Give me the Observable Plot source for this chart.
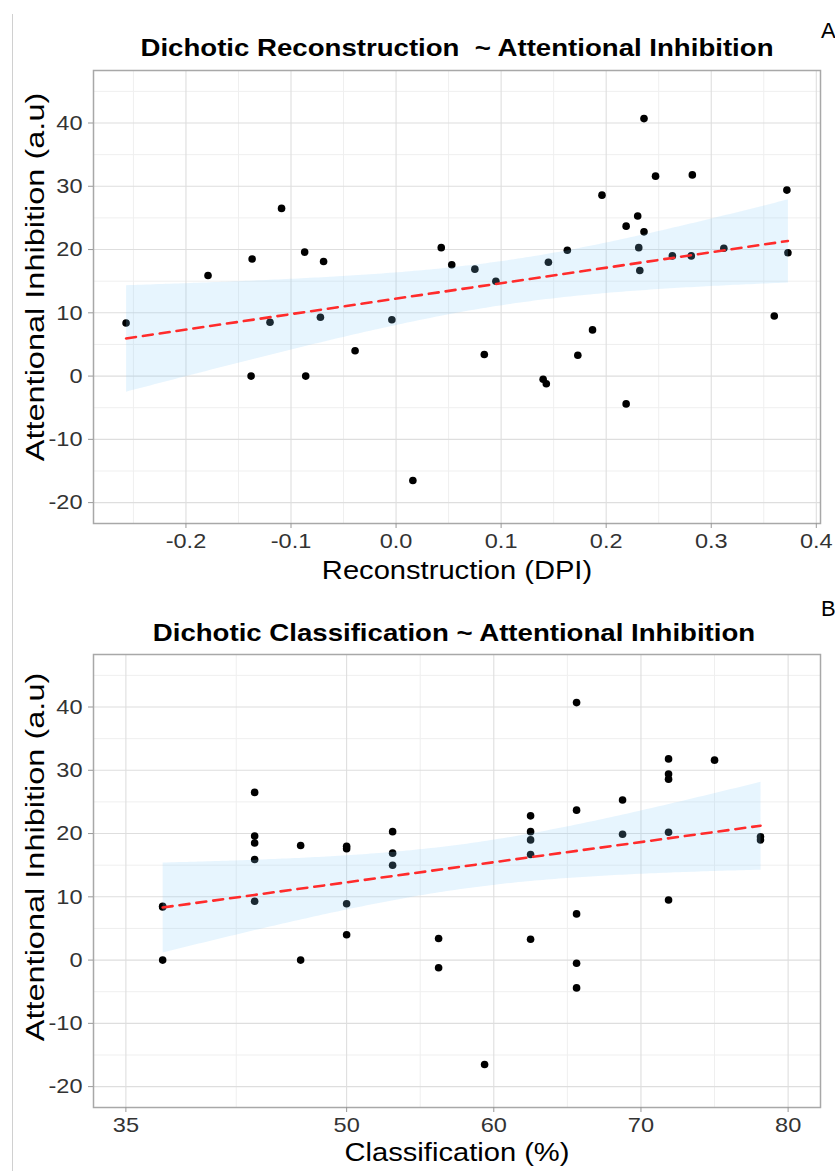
<!DOCTYPE html>
<html>
<head>
<meta charset="utf-8">
<script src="https://cdn.jsdelivr.net/npm/d3@7"></script>
<script src="https://cdn.jsdelivr.net/npm/@observablehq/plot@0.6"></script>
<style>
  html, body { margin: 0; padding: 0; background: #fff; }
  #page { position: relative; width: 835px; height: 1171px; overflow: hidden; background: #fff;
          font-family: "Liberation Sans", Arial, Helvetica, sans-serif; }
  .lbl { position: absolute; white-space: pre; line-height: 1; color: #000; }
  .panel { position: absolute; left: 0; }
</style>
</head>
<body>
<div id="page">
  <div style="position:absolute;left:12px;top:14px;width:1px;height:1157px;background:#d0d0d0"></div>
  <div id="p1" class="panel" style="top:0"></div>
  <div id="p2" class="panel" style="top:586px"></div>
</div>
<script>
// ---------- data (one entry per participant) ----------
const dpi = [-0.257, -0.179, -0.137, -0.138, -0.120, -0.109, -0.087, -0.086, -0.072, -0.069,
             -0.039, -0.004, 0.016, 0.043, 0.053, 0.075, 0.084, 0.095, 0.140, 0.143,
             0.145, 0.163, 0.173, 0.187, 0.196, 0.219, 0.219, 0.230, 0.231, 0.232,
             0.236, 0.236, 0.247, 0.263, 0.281, 0.282, 0.312, 0.360, 0.372, 0.373];
const classification = [37.5, 43.75, 43.75, 37.5, 37.5, 43.75, 43.75, 46.875, 43.75, 46.875,
             50, 50, 59.375, 53.125, 50, 53.125, 56.25, 53.125, 65.625, 56.25,
             50, 68.75, 62.5, 65.625, 71.875, 65.625, 65.625, 68.75, 62.5, 62.5,
             65.625, 62.5, 75, 62.5, 78.125, 71.875, 71.875, 71.875, 71.875, 78.125];
const inhibition = [8.4, 15.9, 18.5, 0.0, 8.5, 26.5, 19.6, 0.0, 9.3, 18.1,
             4.0, 8.9, -16.5, 20.3, 17.6, 16.9, 3.4, 15.0, -0.5, -1.2,
             18.0, 19.9, 3.3, 7.3, 28.6, 23.7, -4.4, 25.3, 20.3, 16.7,
             40.7, 22.8, 31.6, 19.0, 19.0, 31.8, 20.2, 9.5, 29.4, 19.5];

// ---------- tick labels / breaks ----------
const dpiTicks = [-0.2, -0.1, 0.0, 0.1, 0.2, 0.3, 0.4];
const dpiMinor = [-0.25, -0.15, -0.05, 0.05, 0.15, 0.25, 0.35];
const clsTicks = [35, 50, 60, 70, 80];
const clsMinor = [42.5, 55, 65, 75];
const aiTicks = [-20, -10, 0, 10, 20, 30, 40];
const aiMinor = [-15, -5, 5, 15, 25, 35, 45];

const titles = ["Dichotic Reconstruction  ~ Attentional Inhibition", "Dichotic Classification ~ Attentional Inhibition"];
const xTitles = ["Reconstruction (DPI)", "Classification (%)"];
const yTitle = "Attentional Inhibition (a.u)";
const tags = ["A", "B"];

const data = dpi.map((d, i) => ({dpi: d, cls: classification[i], ai: inhibition[i]}));

function panel({xKey, xDomain, xTicks, xMinor, xFormat, height, mt, mb}) {
  return Plot.plot({
    width: 835, height,
    marginTop: mt, marginBottom: mb, marginLeft: 93, marginRight: 15,
    style: {fontFamily: '"Liberation Sans", Arial, sans-serif', fontSize: "21px", color: "#333", background: "transparent", overflow: "visible"},
    x: {domain: xDomain},
    y: {domain: [-23.3, 48.3]},
    marks: [
      Plot.gridX(xMinor, {stroke: "#efefef", strokeOpacity: 1, strokeWidth: 1}),
      Plot.gridY(aiMinor, {stroke: "#efefef", strokeOpacity: 1, strokeWidth: 1}),
      Plot.gridX(xTicks, {stroke: "#dedede", strokeOpacity: 1, strokeWidth: 1.1}),
      Plot.gridY(aiTicks, {stroke: "#dedede", strokeOpacity: 1, strokeWidth: 1.1}),
      Plot.dot(data, {x: xKey, y: "ai", r: 3.8, fill: "#000", stroke: null}),
      Plot.linearRegressionY(data, {x: xKey, y: "ai", stroke: "#ff2b2b", strokeWidth: 2.6,
        strokeDasharray: "10,7", fill: "#87cefa", fillOpacity: 0.2}),
      Plot.frame({stroke: "#a8a8a8", strokeWidth: 1.5}),
      Plot.axisX(xTicks, {tickSize: 5, tickPadding: 5, tickFormat: xFormat, label: null, stroke: "#999"}),
      Plot.axisY(aiTicks, {tickSize: 5, tickPadding: 6, tickFormat: d => String(d), label: null, stroke: "#999"})
    ]
  });
}

const svg1 = panel({
  xKey: "dpi", xDomain: [-0.288, 0.404], xTicks: dpiTicks, xMinor: dpiMinor,
  xFormat: d => d.toFixed(1), height: 586, mt: 70, mb: 63
});
const svg2 = panel({
  xKey: "cls", xDomain: [32.8, 82.2], xTicks: clsTicks, xMinor: clsMinor,
  xFormat: d => String(d), height: 585, mt: 68, mb: 64
});
document.getElementById("p1").appendChild(svg1);
document.getElementById("p2").appendChild(svg2);

// widen tick-label glyphs a little to match the reference's wide face
for (const svg of [svg1, svg2]) {
  svg.querySelectorAll("text").forEach(t => {
    const len = t.getComputedTextLength();
    if (len > 0) {
      t.setAttribute("textLength", (len * 1.12).toFixed(1));
      t.setAttribute("lengthAdjust", "spacingAndGlyphs");
    }
  });
}

const page = document.getElementById("page");
function label(text, cx, cy, {size = 24, weight = "normal", rotate = 0, sx = 1, left = false} = {}) {
  const el = document.createElement("div");
  el.className = "lbl";
  el.textContent = text;
  el.style.fontSize = size + "px";
  el.style.fontWeight = weight;
  el.style.left = cx + "px";
  el.style.top = cy + "px";
  el.style.transform = (left ? "translate(0,-50%)" : "translate(-50%,-50%)") + ` rotate(${rotate}deg) scaleX(${sx})`;
  page.appendChild(el);
}
label(titles[0], 457, 48, {size: 24, weight: "bold", sx: 1.15});
label(titles[1], 454, 633, {size: 24, weight: "bold", sx: 1.15});
label(tags[0], 821, 31, {size: 22, left: true});
label(tags[1], 821, 609, {size: 22, left: true});
label(xTitles[0], 457, 570, {size: 26, sx: 1.12});
label(xTitles[1], 457, 1152, {size: 26, sx: 1.12});
label(yTitle, 35, 277, {size: 26, rotate: -90, sx: 1.25});
label(yTitle, 35, 857, {size: 26, rotate: -90, sx: 1.25});
</script>
</body>
</html>
